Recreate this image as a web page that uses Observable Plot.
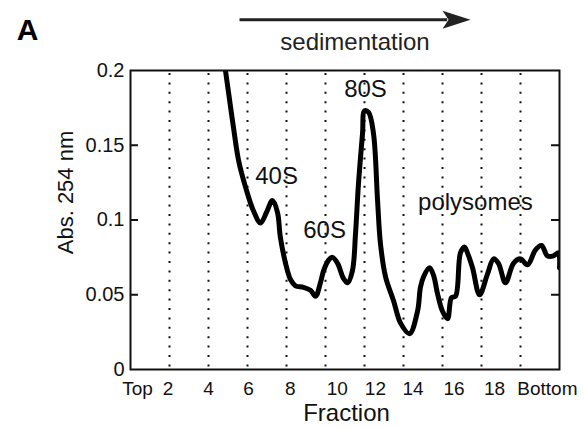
<!DOCTYPE html>
<html>
<head>
<meta charset="utf-8">
<script src="https://cdn.jsdelivr.net/npm/d3@7"></script>
<script src="https://cdn.jsdelivr.net/npm/@observablehq/plot@0.6"></script>
<style>
  html, body { margin: 0; padding: 0; background: #fff; }
  #chart svg { display: block; }
</style>
</head>
<body>
<div id="chart"></div>
<script>
// ---- data ----
const fractionPos = [4.77, 4.87, 5.03, 5.28, 5.54, 5.90, 6.31, 6.67, 6.97, 7.28, 7.54, 7.69, 8.05, 8.21, 8.46, 8.87, 9.23, 9.49, 9.74, 9.90, 10.15, 10.36, 10.62, 10.92, 11.13, 11.38, 11.54, 11.69, 11.90, 12.0, 12.21, 12.46, 12.67, 12.82, 13.08, 13.49, 13.85, 14.31, 14.72, 14.87, 15.03, 15.33, 15.54, 15.74, 16.0, 16.26, 16.46, 16.67, 16.92, 17.13, 17.28, 17.54, 17.90, 18.31, 18.62, 18.87, 19.23, 19.64, 20.0, 20.36, 20.77, 21.08, 21.38, 21.69, 21.95, 22.0];
const absorbance = [0.210, 0.200, 0.185, 0.162, 0.140, 0.122, 0.106, 0.098, 0.105, 0.113, 0.105, 0.088, 0.066, 0.060, 0.056, 0.055, 0.053, 0.049, 0.058, 0.066, 0.073, 0.075, 0.071, 0.061, 0.058, 0.066, 0.091, 0.124, 0.158, 0.173, 0.172, 0.158, 0.113, 0.084, 0.062, 0.046, 0.031, 0.024, 0.039, 0.055, 0.062, 0.068, 0.063, 0.051, 0.039, 0.034, 0.048, 0.049, 0.078, 0.082, 0.078, 0.068, 0.050, 0.064, 0.074, 0.071, 0.058, 0.071, 0.074, 0.070, 0.080, 0.083, 0.076, 0.076, 0.078, 0.068];

const gridFractions = [2, 4, 6, 8, 10, 12, 14, 16, 18, 20];
const xTickPositions = [0.36, 1.92, 4.0, 6.05, 8.2, 10.6, 12.56, 14.49, 16.59, 18.67, 21.38];
const xTickLabels = ["Top", "2", "4", "6", "8", "10", "12", "14", "16", "18", "Bottom"];
const yTicks = [0, 0.05, 0.1, 0.15, 0.2];
const yTickLabels = ["0", "0.05", "0.1", "0.15", "0.2"];
const innerYTicks = [0.05, 0.1, 0.15];

const peakLabels = ["40S", "60S", "80S", "polysomes"];
const peakLabelX = [7.49, 9.95, 12.05, 17.69];
const peakLabelY = [0.129, 0.0928, 0.1877, 0.112];

const arrowStart = [5.59, 0.234];
const arrowEnd = [17.44, 0.234];

// ---- build ----
const curve = fractionPos.map((x, i) => ({x, y: absorbance[i]}));
const peaks = peakLabels.map((t, i) => ({t, x: peakLabelX[i], y: peakLabelY[i]}));
const xLabelMap = new Map(xTickPositions.map((p, i) => [p, xTickLabels[i]]));
const yLabelMap = new Map(yTicks.map((v, i) => [v, yTickLabels[i]]));

const headSymbol = {
  draw(ctx) {
    ctx.moveTo(14, 0);
    ctx.lineTo(-14, -9);
    ctx.lineTo(-8, 0);
    ctx.lineTo(-14, 9);
    ctx.closePath();
  }
};

const ink = "#111";
const xDomain = [0, 22];
const tickLen = 0.41;

const plot = Plot.plot({
  width: 584,
  height: 428,
  marginTop: 70,
  marginRight: 25,
  marginBottom: 59,
  marginLeft: 130,
  style: {fontFamily: "'Liberation Sans', Arial, Helvetica, sans-serif", fontSize: "20px", color: ink, background: "#fff"},
  x: {domain: xDomain},
  y: {domain: [0, 0.2]},
  marks: [
    Plot.ruleX(gridFractions, {stroke: ink, strokeWidth: 2, strokeDasharray: "2 7.4", strokeDashoffset: -3}),
    Plot.ruleY(innerYTicks, {x1: xDomain[0], x2: xDomain[0] + tickLen, stroke: ink, strokeWidth: 2}),
    Plot.ruleY(innerYTicks, {x1: xDomain[1] - tickLen, x2: xDomain[1], stroke: ink, strokeWidth: 2}),
    Plot.line(curve, {x: "x", y: "y", curve: "catmull-rom", stroke: "#000", strokeWidth: 5, clip: true}),
    Plot.frame({stroke: ink, strokeWidth: 2}),
    Plot.axisY({ticks: yTicks, tickFormat: d => yLabelMap.get(d), tickSize: 0, tickPadding: 6, fontSize: 20, label: null}),
    Plot.axisX({ticks: xTickPositions, tickFormat: d => xLabelMap.get(d), tickSize: 0, tickPadding: 12, fontSize: 19, label: null}),
    Plot.text(peaks, {x: "x", y: "y", text: "t", fontSize: 24, fill: ink}),
    Plot.text(["Fraction"], {frameAnchor: "bottom", lineAnchor: "middle", textAnchor: "middle", dx: 1.5, dy: 44, fontSize: 24, fill: ink}),
    Plot.text(["Abs. 254 nm"], {frameAnchor: "left", lineAnchor: "middle", textAnchor: "middle", dx: -65, dy: -27.5, rotate: -90, fontSize: 22, fill: ink}),
    Plot.text(["sedimentation"], {frameAnchor: "top", lineAnchor: "middle", textAnchor: "middle", dx: 10, dy: -28.4, fontSize: 24, fill: "#222"}),
    Plot.text(["A"], {frameAnchor: "top-left", lineAnchor: "middle", textAnchor: "middle", dx: -103, dy: -40.6, fontSize: 30, fontWeight: "bold", fill: "#000"}),
    Plot.link([{x1: arrowStart[0], y1: arrowStart[1], x2: arrowEnd[0] - 1.2, y2: arrowEnd[1]}], {x1: "x1", y1: "y1", x2: "x2", y2: "y2", stroke: "#222", strokeWidth: 3}),
    Plot.dot([{x: arrowEnd[0] - 0.72, y: arrowEnd[1]}], {x: "x", y: "y", symbol: headSymbol, fill: "#222", stroke: "none", r: 10})
  ]
});

document.getElementById("chart").appendChild(plot);
</script>
</body>
</html>
